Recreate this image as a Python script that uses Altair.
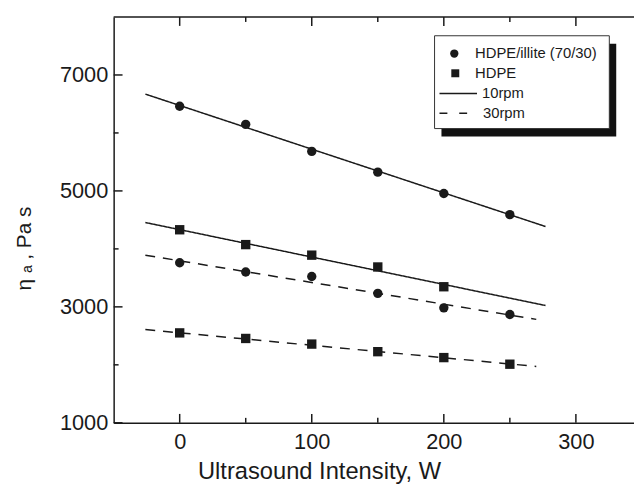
import altair as alt
import pandas as pd

# ---- data ----
intensity = [0, 50, 100, 150, 200, 250]
illite_10rpm = [6460, 6148, 5682, 5324, 4955, 4591]
hdpe_10rpm = [4330, 4074, 3892, 3688, 3347]
illite_30rpm = [3761, 3602, 3523, 3233, 2983, 2869]
hdpe_30rpm = [2551, 2455, 2358, 2227, 2125, 2011]

# fitted lines (start / end x and y)
fit_names = ["illite_10", "hdpe_10", "illite_30", "hdpe_30"]
fit_speed = ["10rpm", "10rpm", "30rpm", "30rpm"]
fit_x0 = [-26, -26, -26, -26]
fit_x1 = [277, 277, 270, 270]
fit_y0 = [6670, 4455, 3892, 2608]
fit_y1 = [4386, 3023, 2784, 1972]

x_major = [0, 100, 200, 300]
x_minor = [50, 150, 250]
y_major = [1000, 3000, 5000, 7000]
y_minor = [2000, 4000, 6000]

X_DOMAIN = [-50, 344]
Y_DOMAIN = [1000, 8000]
W, H = 527, 411
FONT = "Liberation Sans"
INK = "#1a1a1a"

pts = []
for xs_, ys_, shp in [(intensity, illite_10rpm, "circle"), (intensity[:5], hdpe_10rpm, "square"),
                      (intensity, illite_30rpm, "circle"), (intensity, hdpe_30rpm, "square")]:
    for a, b in zip(xs_, ys_):
        pts.append({"x": a, "y": b, "shape": shp})
pts = pd.DataFrame(pts)

lines = []
for n, s, a0, a1, b0, b1 in zip(fit_names, fit_speed, fit_x0, fit_x1, fit_y0, fit_y1):
    lines.append({"name": n, "speed": s, "x": a0, "y": b0})
    lines.append({"name": n, "speed": s, "x": a1, "y": b1})
lines = pd.DataFrame(lines)

xs = alt.Scale(domain=X_DOMAIN, nice=False, zero=False)
ys = alt.Scale(domain=Y_DOMAIN, nice=False, zero=False)

x_axis = alt.Axis(values=x_major, format="d", title="Ultrasound Intensity, W", ticks=False,
                  tickSize=0, grid=False, labelFontSize=22, labelPadding=9, titleFontSize=24,
                  titlePadding=7, titleX=208, titleAlign="center", titleAnchor="start",
                  domainColor=INK, domainWidth=1.5, labelColor=INK,
                  titleColor=INK, labelFont=FONT, titleFont=FONT, titleFontWeight="normal")
y_axis = alt.Axis(values=y_major, format="d", title="η ₐ , Pa s", ticks=False, tickSize=0,
                  grid=False, labelFontSize=22, labelPadding=6, titleFontSize=21,
                  titlePadding=25, titleY=234, titleAlign="center", titleAnchor="start",
                  domainColor=INK, domainWidth=1.5, labelColor=INK, titleColor=INK,
                  labelFont=FONT, titleFont=FONT, titleFontWeight="normal")

fit = alt.Chart(lines).mark_line(color=INK, strokeWidth=1.5).encode(
    x=alt.X("x:Q", scale=xs, axis=x_axis),
    y=alt.Y("y:Q", scale=ys, axis=y_axis),
    detail="name:N",
    strokeDash=alt.StrokeDash("speed:N", scale=alt.Scale(domain=["10rpm", "30rpm"],
                                                         range=[[1, 0], [10, 8]]), legend=None),
)

points = alt.Chart(pts).mark_point(filled=True, color=INK, opacity=1, size=90).encode(
    x=alt.X("x:Q", scale=xs),
    y=alt.Y("y:Q", scale=ys),
    shape=alt.Shape("shape:N", scale=alt.Scale(domain=["circle", "square"],
                                               range=["circle", "square"]), legend=None),
)

# inward axis ticks (bottom, top, left), drawn as short line segments
PX_X = W / (X_DOMAIN[1] - X_DOMAIN[0])
PX_Y = H / (Y_DOMAIN[1] - Y_DOMAIN[0])
trows = []
k = 0
for vals, ln in [(x_major, 9), (x_minor, 5)]:
    for v in vals:
        trows += [{"id": k, "tx": v, "ty": Y_DOMAIN[0]}, {"id": k, "tx": v, "ty": Y_DOMAIN[0] + ln / PX_Y}]
        k += 1
        trows += [{"id": k, "tx": v, "ty": Y_DOMAIN[1]}, {"id": k, "tx": v, "ty": Y_DOMAIN[1] - ln / PX_Y}]
        k += 1
for vals, ln in [(y_major, 9), (y_minor, 5)]:
    for v in vals:
        trows += [{"id": k, "tx": X_DOMAIN[0], "ty": v}, {"id": k, "tx": X_DOMAIN[0] + ln / PX_X, "ty": v}]
        k += 1
tick_df = pd.DataFrame(trows)
ticks = alt.Chart(tick_df).mark_line(color=INK, strokeWidth=1.5).encode(
    x=alt.X("tx:Q", scale=xs),
    y=alt.Y("ty:Q", scale=ys),
    detail="id:N", order="ty:Q")

top_border = alt.Chart(pd.DataFrame({"a": [0]})).mark_rule(color=INK, strokeWidth=1.5).encode(
    x=alt.value(0), x2=alt.value(W), y=alt.value(0))

# legend (hand drawn, with drop shadow)
LX, LY = 325, 19
shadow = alt.Chart(pd.DataFrame({"a": [0]})).mark_rect(color="#111").encode(
    x=alt.value(LX + 7), x2=alt.value(LX + 184), y=alt.value(LY + 8), y2=alt.value(LY + 102))
box = alt.Chart(pd.DataFrame({"a": [0]})).mark_rect(fill="white", stroke="#333", strokeWidth=1).encode(
    x=alt.value(LX), x2=alt.value(LX + 177), y=alt.value(LY), y2=alt.value(LY + 94))
leg_circle = alt.Chart(pd.DataFrame({"a": [0]})).mark_point(
    shape="circle", filled=True, color=INK, opacity=1, size=70).encode(
    x=alt.value(LX + 20), y=alt.value(LY + 18))
leg_square = alt.Chart(pd.DataFrame({"a": [0]})).mark_point(
    shape="square", filled=True, color=INK, opacity=1, size=65).encode(
    x=alt.value(LX + 21), y=alt.value(LY + 38))
leg_solid = alt.Chart(pd.DataFrame({"a": [0]})).mark_rule(color=INK, strokeWidth=1.5).encode(
    x=alt.value(LX + 5), x2=alt.value(LX + 43), y=alt.value(LY + 58.5))
leg_dash = alt.Chart(pd.DataFrame({"a": [0]})).mark_rule(
    color=INK, strokeWidth=1.5, strokeDash=[8, 12]).encode(
    x=alt.value(LX + 5), x2=alt.value(LX + 43), y=alt.value(LY + 78.5))

def leg_text(txt, dx, dy):
    return alt.Chart(pd.DataFrame({"t": [txt]})).mark_text(
        align="left", baseline="middle", font=FONT, fontSize=15, color=INK).encode(
        x=alt.value(LX + dx), y=alt.value(LY + dy), text="t:N")

legend = [shadow, box, leg_circle, leg_square, leg_solid, leg_dash,
          leg_text("HDPE/illite (70/30)", 41, 18), leg_text("HDPE", 41, 38),
          leg_text("10rpm", 48, 58.5), leg_text("30rpm", 49, 78.5)]

chart = alt.layer(
    ticks, fit, points, top_border, *legend
).properties(
    width=W, height=H,
    autosize=alt.AutoSizeParams(type="none"),
    padding={"left": 107, "top": 6, "right": 0, "bottom": 70},
    background="white",
).configure_view(stroke=None)

chart.save("out.html", embed_options={"renderer": "svg", "actions": False})
